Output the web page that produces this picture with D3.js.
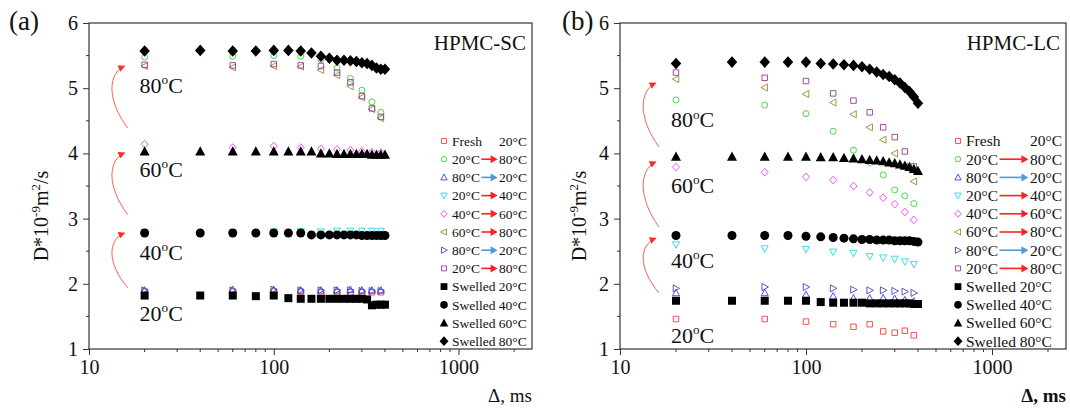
<!DOCTYPE html>
<html>
<head>
<meta charset="utf-8">
<script src="https://cdn.jsdelivr.net/npm/d3@7"></script>
<style>
  body { margin: 0; background: #fff; }
  svg text { font-family: "Liberation Serif", "Times New Roman", serif; fill: #111; }
</style>
</head>
<body>
<svg id="chart" width="1070" height="410"></svg>
<script>
// x values (ms)
const swelledX = [20, 40, 60, 80, 100, 120, 140, 160, 180, 200, 220, 240, 260, 280, 300, 320, 340, 360, 380, 400];
const cycleX = [20, 60, 100, 140, 180, 220, 260, 300, 340, 380];
const xTicks = [10, 100, 1000];
const yTicks = [1, 2, 3, 4, 5, 6];

// HPMC-SC (a)
const scFresh = [1.88, 1.88, 1.88, 1.88, 1.87, 1.87, 1.87, 1.87, 1.87, 1.87];
const scHeat20to80 = [5.48, 5.49, 5.50, 5.49, 5.44, 5.31, 5.15, 4.97, 4.79, 4.63];
const scCool80to20 = [1.90, 1.91, 1.91, 1.90, 1.90, 1.90, 1.91, 1.90, 1.90, 1.90];
const scHeat20to40 = [2.79, 2.79, 2.80, 2.80, 2.80, 2.81, 2.81, 2.81, 2.81, 2.81];
const scHeat40to60 = [4.14, 4.09, 4.11, 4.09, 4.07, 4.06, 4.05, 4.03, 4.02, 4.01];
const scHeat60to80 = [5.34, 5.32, 5.34, 5.33, 5.28, 5.20, 5.03, 4.86, 4.68, 4.54];
const scCool80to20b = [1.90, 1.90, 1.91, 1.90, 1.90, 1.90, 1.90, 1.89, 1.89, 1.89];
const scHeat20to80b = [5.36, 5.35, 5.37, 5.35, 5.34, 5.24, 5.09, 4.88, 4.69, 4.56];
const scSwelled20 = [1.82, 1.82, 1.82, 1.81, 1.82, 1.78, 1.77, 1.77, 1.77, 1.77, 1.77, 1.77, 1.77, 1.77, 1.77, 1.76, 1.67, 1.68, 1.68, 1.68];
const scSwelled40 = [2.78, 2.78, 2.78, 2.78, 2.78, 2.78, 2.78, 2.75, 2.75, 2.75, 2.75, 2.75, 2.75, 2.75, 2.74, 2.74, 2.74, 2.74, 2.74, 2.74];
const scSwelled60 = [4.03, 4.03, 4.03, 4.03, 4.03, 4.03, 4.03, 4.03, 4.00, 4.00, 3.99, 3.99, 3.99, 3.99, 3.99, 3.99, 3.98, 3.98, 3.98, 3.98];
const scSwelled80 = [5.57, 5.58, 5.57, 5.57, 5.58, 5.58, 5.57, 5.54, 5.49, 5.46, 5.43, 5.43, 5.42, 5.41, 5.39, 5.38, 5.35, 5.31, 5.29, 5.29];

// HPMC-LC (b)
const lcFresh = [1.46, 1.46, 1.42, 1.38, 1.34, 1.38, 1.27, 1.25, 1.28, 1.21];
const lcHeat20to80 = [4.82, 4.74, 4.61, 4.34, 4.05, 3.86, 3.67, 3.44, 3.35, 3.23];
const lcCool80to20 = [1.86, 1.86, 1.83, 1.81, 1.78, 1.78, 1.78, 1.77, 1.75, 1.73];
const lcHeat20to40 = [2.60, 2.54, 2.53, 2.49, 2.47, 2.42, 2.40, 2.38, 2.34, 2.30];
const lcHeat40to60 = [3.79, 3.71, 3.64, 3.59, 3.50, 3.40, 3.32, 3.22, 3.10, 2.98];
const lcHeat60to80 = [5.14, 5.01, 4.91, 4.78, 4.60, 4.40, 4.21, 4.00, 3.80, 3.57];
const lcCool80to20b = [1.93, 1.95, 1.95, 1.93, 1.91, 1.90, 1.90, 1.89, 1.88, 1.86];
const lcHeat20to80b = [5.24, 5.16, 5.11, 4.92, 4.81, 4.63, 4.40, 4.25, 4.03, 3.80];
const lcSwelled20 = [1.74, 1.74, 1.74, 1.74, 1.74, 1.72, 1.71, 1.71, 1.71, 1.71, 1.70, 1.70, 1.70, 1.70, 1.70, 1.70, 1.70, 1.70, 1.69, 1.69];
const lcSwelled40 = [2.74, 2.74, 2.74, 2.74, 2.73, 2.72, 2.71, 2.70, 2.69, 2.68, 2.68, 2.67, 2.67, 2.67, 2.66, 2.66, 2.66, 2.66, 2.65, 2.64];
const lcSwelled60 = [3.95, 3.95, 3.95, 3.95, 3.95, 3.94, 3.94, 3.93, 3.92, 3.91, 3.90, 3.89, 3.88, 3.86, 3.85, 3.83, 3.81, 3.79, 3.76, 3.73];
const lcSwelled80 = [5.38, 5.40, 5.40, 5.40, 5.40, 5.38, 5.37, 5.36, 5.35, 5.33, 5.29, 5.25, 5.21, 5.18, 5.13, 5.08, 5.01, 4.95, 4.87, 4.77];

// temperature annotations and heating arrows (data coords)
const tempNames = ['20', '40', '60', '80'];
const scTempY = [1.43, 2.37, 3.64, 4.93];
const lcTempY = [1.09, 2.24, 3.39, 4.40];
const scArrows = [[1.94, 2.78], [3.06, 4.01], [4.39, 5.34]];
const lcArrows = [[1.86, 2.70], [2.87, 3.87], [4.10, 5.08]];

// legend entries: [left, right, arrow kind]
const legendRows = [
  ['Fresh', '20°C', null],
  ['20°C', '80°C', 'heat'],
  ['80°C', '20°C', 'cool'],
  ['20°C', '40°C', 'heat'],
  ['40°C', '60°C', 'heat'],
  ['60°C', '80°C', 'heat'],
  ['80°C', '20°C', 'cool'],
  ['20°C', '80°C', 'heat'],
  ['Swelled 20°C', null, null],
  ['Swelled 40°C', null, null],
  ['Swelled 60°C', null, null],
  ['Swelled 80°C', null, null]
];

const styles = [
  { shape: 'square', color: '#ff3b3b', fill: false, size: 5.5 },
  { shape: 'circle', color: '#2fd82f', fill: false, size: 6 },
  { shape: 'up', color: '#3a3aff', fill: false, size: 7 },
  { shape: 'down', color: '#25d8e8', fill: false, size: 7 },
  { shape: 'diamond', color: '#ff3cff', fill: false, size: 7 },
  { shape: 'left', color: '#8f8f30', fill: false, size: 7 },
  { shape: 'right', color: '#4646b8', fill: false, size: 7 },
  { shape: 'square', color: '#9a3a9a', fill: false, size: 5.5 },
  { shape: 'square', color: '#000', fill: true, size: 8 },
  { shape: 'circle', color: '#000', fill: true, size: 9 },
  { shape: 'up', color: '#000', fill: true, size: 10 },
  { shape: 'diamond', color: '#000', fill: true, size: 10.5 }
];

const panels = [
  {
    tag: '(a)', title: 'HPMC-SC', left: 89, right: 532, tagX: 9, yLabelX: 48, bold: false,
    open: [scFresh, scHeat20to80, scCool80to20, scHeat20to40, scHeat40to60, scHeat60to80, scCool80to20b, scHeat20to80b],
    swelled: [scSwelled20, scSwelled40, scSwelled60, scSwelled80],
    tempY: scTempY, arrows: scArrows,
    legend: { x: 444, end: 527, font: 13.5 }
  },
  {
    tag: '(b)', title: 'HPMC-LC', left: 620, right: 1066, tagX: 562, yLabelX: 586, bold: true,
    open: [lcFresh, lcHeat20to80, lcCool80to20, lcHeat20to40, lcHeat40to60, lcHeat60to80, lcCool80to20b, lcHeat20to80b],
    swelled: [lcSwelled20, lcSwelled40, lcSwelled60, lcSwelled80],
    tempY: lcTempY, arrows: lcArrows,
    legend: { x: 958, end: 1062, font: 15.5 }
  }
];

const plotTop = 23, plotBottom = 349;
const svg = d3.select('#chart');

const defs = svg.append('defs');
defs.append('marker')
  .attr('id', 'redHead').attr('viewBox', '0 0 10 10').attr('refX', 9).attr('refY', 5)
  .attr('markerWidth', 7).attr('markerHeight', 7).attr('markerUnits', 'userSpaceOnUse')
  .attr('orient', 'auto')
  .append('path').attr('d', 'M0,0L10,5L0,10Z').attr('fill', '#ff2a2a');

function sym(shape, s) {
  const h = s / 2;
  switch (shape) {
    case 'square': return `M${-h},${-h}H${h}V${h}H${-h}Z`;
    case 'circle': return `M${h},0A${h},${h} 0 1,1 ${-h},0A${h},${h} 0 1,1 ${h},0Z`;
    case 'up': return `M0,${-h * 1.05}L${h},${h * 0.8}L${-h},${h * 0.8}Z`;
    case 'down': return `M0,${h * 1.05}L${h},${-h * 0.8}L${-h},${-h * 0.8}Z`;
    case 'left': return `M${-h * 1.05},0L${h * 0.8},${-h}L${h * 0.8},${h}Z`;
    case 'right': return `M${h * 1.05},0L${-h * 0.8},${-h}L${-h * 0.8},${h}Z`;
    case 'diamond': return `M0,${-h * 1.1}L${h},0L0,${h * 1.1}L${-h},0Z`;
  }
}

function degText(sel, num, size) {
  sel.append('tspan').text(num);
  sel.append('tspan').text('o').attr('font-size', size * 0.6).attr('dy', -size * 0.4);
  sel.append('tspan').text('C').attr('dy', size * 0.4);
}

panels.forEach(p => {
  const x = d3.scaleLog().domain([10, 2500]).range([p.left, p.right]);
  const y = d3.scaleLinear().domain([1, 6]).range([plotBottom, plotTop]);
  const g = svg.append('g');

  // frame
  g.append('rect')
    .attr('x', p.left).attr('y', plotTop)
    .attr('width', p.right - p.left).attr('height', plotBottom - plotTop)
    .attr('fill', 'none').attr('stroke', '#333').attr('stroke-width', 1.2);

  // x axis
  const xAxis = d3.axisBottom(x).tickValues(xTicks).tickFormat(d3.format('d')).tickSize(6).tickPadding(5);
  const xa = g.append('g').attr('transform', `translate(0,${plotBottom})`).call(xAxis);
  xa.select('.domain').remove();
  xa.selectAll('text').attr('font-size', 20).attr('font-family', '"Liberation Serif", serif').attr('fill', '#111');
  xa.selectAll('line').attr('stroke', '#333');
  const minorX = [];
  [10, 100, 1000].forEach(dec => { for (let k = 2; k <= 9; k++) if (dec * k <= 2500) minorX.push(dec * k); });
  g.selectAll('.mx').data(minorX).enter().append('line')
    .attr('x1', d => x(d)).attr('x2', d => x(d))
    .attr('y1', plotBottom).attr('y2', plotBottom + 3).attr('stroke', '#333');

  // y axis
  const yAxis = d3.axisLeft(y).tickValues(yTicks).tickFormat(d3.format('d')).tickSize(6).tickPadding(5);
  const ya = g.append('g').attr('transform', `translate(${p.left},0)`).call(yAxis);
  ya.select('.domain').remove();
  ya.selectAll('text').attr('font-size', 20).attr('font-family', '"Liberation Serif", serif').attr('fill', '#111');
  ya.selectAll('line').attr('stroke', '#333');
  g.selectAll('.my').data([1.5, 2.5, 3.5, 4.5, 5.5]).enter().append('line')
    .attr('x1', p.left - 3).attr('x2', p.left)
    .attr('y1', d => y(d)).attr('y2', d => y(d)).attr('stroke', '#333');

  // axis titles
  const yl = g.append('text')
    .attr('transform', `translate(${p.yLabelX},${(plotTop + plotBottom) / 2 + 30}) rotate(-90)`)
    .attr('text-anchor', 'middle').attr('font-size', 20);
  yl.append('tspan').text('D*10');
  yl.append('tspan').text('-9').attr('font-size', 13).attr('dy', -8);
  yl.append('tspan').text('m').attr('dy', 8);
  yl.append('tspan').text('2').attr('font-size', 13).attr('dy', -8);
  yl.append('tspan').text('/s').attr('dy', 8);

  g.append('text').attr('x', p.right).attr('y', 402)
    .attr('text-anchor', 'end').attr('font-size', 19)
    .attr('font-weight', p.bold ? 'bold' : 'normal')
    .text('Δ, ms');

  g.append('text').attr('x', p.tagX).attr('y', 30).attr('font-size', 27).text(p.tag);
  g.append('text').attr('x', p.right - 6).attr('y', 50)
    .attr('text-anchor', 'end').attr('font-size', 21).text(p.title);

  // temperature labels
  tempNames.forEach((t, i) => {
    const tx = g.append('text').attr('x', x(20) - 5).attr('y', y(p.tempY[i])).attr('font-size', 22);
    degText(tx, t, 22);
  });

  // heating arrows
  p.arrows.forEach(a => {
    const x0 = x(16.2), x1 = x(15.6), y0 = y(a[0]), y1 = y(a[1]);
    const h = y0 - y1;
    const bx = x0 - 21;
    g.append('path')
      .attr('d', `M${x0},${y0}C${bx},${y0 - h * 0.45} ${bx + 1},${y1 + h * 0.12} ${x1},${y1}`)
      .attr('fill', 'none').attr('stroke', '#ff4a4a').attr('stroke-width', 0.9)
      .attr('marker-end', 'url(#redHead)');
  });

  // open (cycled) series
  p.open.forEach((vals, si) => {
    const st = styles[si];
    g.selectAll(null).data(vals.map((v, i) => [cycleX[i], v])).enter().append('path')
      .attr('transform', d => `translate(${x(d[0])},${y(d[1])})`)
      .attr('d', sym(st.shape, st.size))
      .attr('fill', 'none').attr('stroke', st.color).attr('stroke-width', 0.9);
  });

  // swelled series
  p.swelled.forEach((vals, si) => {
    const st = styles[si + 8];
    g.selectAll(null).data(vals.map((v, i) => [swelledX[i], v])).enter().append('path')
      .attr('transform', d => `translate(${x(d[0])},${y(d[1])})`)
      .attr('d', sym(st.shape, st.size))
      .attr('fill', '#000');
  });

  // legend
  const L = p.legend;
  legendRows.forEach((r, i) => {
    const ry = 141 + i * 18.2;
    const st = styles[i];
    g.append('path')
      .attr('transform', `translate(${L.x},${ry})`)
      .attr('d', sym(st.shape, st.fill ? st.size * 0.85 : st.size * 0.9))
      .attr('fill', st.fill ? '#000' : 'none')
      .attr('stroke', st.fill ? 'none' : st.color).attr('stroke-width', 0.9);
    const tx = L.x + 8;
    g.append('text').attr('x', tx).attr('y', ry + L.font * 0.35)
      .attr('font-size', L.font).text(r[0]);
    if (r[1]) {
      g.append('text').attr('x', L.end).attr('y', ry + L.font * 0.35)
        .attr('text-anchor', 'end').attr('font-size', L.font).text(r[1]);
    }
    if (r[2]) {
      const col = r[2] === 'heat' ? '#ff2020' : '#4f9ad8';
      const w = L.font * 2.1;
      const ax0 = tx + w + 1, ax1 = L.end - w - 1;
      g.append('line').attr('x1', ax0).attr('x2', ax1 - 4)
        .attr('y1', ry).attr('y2', ry).attr('stroke', col).attr('stroke-width', 1.6);
      g.append('path')
        .attr('d', `M${ax1},${ry}L${ax1 - 7},${ry - 4}L${ax1 - 7},${ry + 4}Z`)
        .attr('fill', col);
    }
  });
});
</script>
</body>
</html>
